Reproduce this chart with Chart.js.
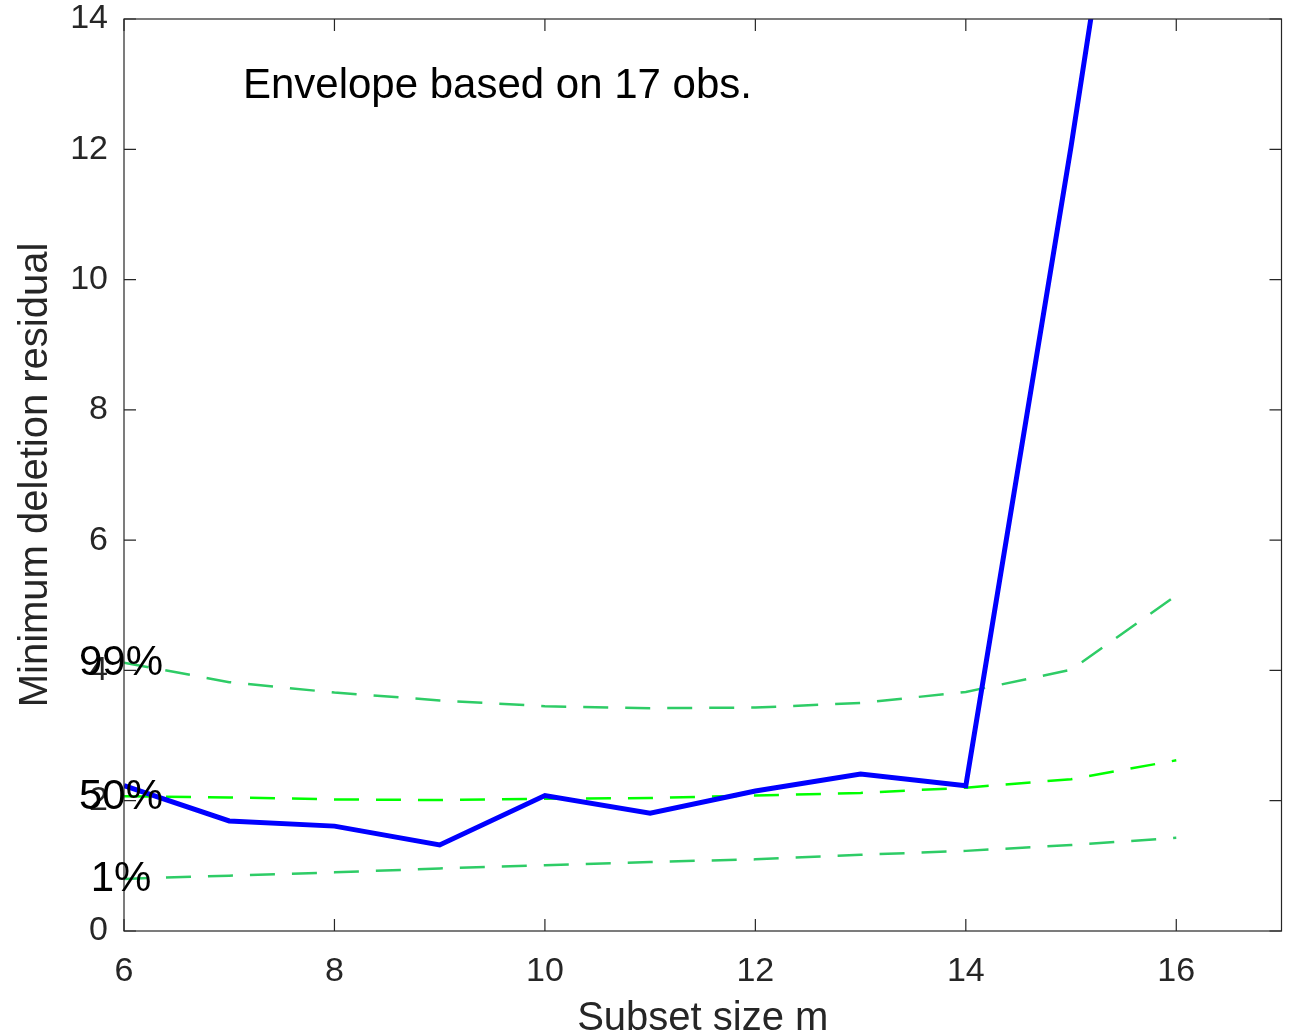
<!DOCTYPE html>
<html>
<head>
<meta charset="utf-8">
<script src="https://cdn.jsdelivr.net/npm/chart.js@4/dist/chart.umd.min.js"></script>
<style>
  html, body { margin: 0; padding: 0; background: #fff; }
  #plot { display: block; }
</style>
</head>
<body>
<canvas id="plot" width="1289" height="1033"></canvas>
<script>
// subset size m and the minimum deletion residual along the forward search
const subsetSize = [6, 7, 8, 9, 10, 11, 12, 13, 14, 15, 16];
const minDeletion = [2.23, 1.69, 1.61, 1.32, 2.08, 1.81, 2.15, 2.41, 2.23, 12.04, 22.5];

// simulation envelopes (1%, 50%, 99%)
const env99 = [4.12, 3.82, 3.66, 3.54, 3.45, 3.42, 3.43, 3.50, 3.67, 4.01, 5.15];
const env50 = [2.07, 2.05, 2.02, 2.01, 2.03, 2.04, 2.08, 2.12, 2.20, 2.33, 2.62];
const env01 = [0.80, 0.85, 0.90, 0.96, 1.01, 1.06, 1.10, 1.17, 1.23, 1.32, 1.43];
const envLabels = ['99%', '50%', '1%'];

const xTicks = [6, 8, 10, 12, 14, 16];
const yTicks = [0, 2, 4, 6, 8, 10, 12, 14];

const toPoints = ys => subsetSize.map((m, i) => ({ x: m, y: ys[i] }));

const FONT = '"Liberation Sans", Arial, Helvetica, sans-serif';
const AXIS_COLOR = '#262626';

// MATLAB-style box with inward ticks, envelope labels and the annotation
const boxPlugin = {
  id: 'matlabBox',
  afterDatasetsDraw(chart) {
    const { ctx, chartArea: a, scales } = chart;
    const xs = scales.x, ys = scales.y;
    const tl = 12;
    ctx.save();
    ctx.strokeStyle = AXIS_COLOR;
    ctx.lineWidth = 1.2;
    ctx.strokeRect(a.left, a.top, a.right - a.left, a.bottom - a.top);
    ctx.beginPath();
    xTicks.forEach(v => {
      const px = xs.getPixelForValue(v);
      ctx.moveTo(px, a.bottom); ctx.lineTo(px, a.bottom - tl);
      ctx.moveTo(px, a.top); ctx.lineTo(px, a.top + tl);
    });
    yTicks.forEach(v => {
      const py = ys.getPixelForValue(v);
      ctx.moveTo(a.left, py); ctx.lineTo(a.left + tl, py);
      ctx.moveTo(a.right, py); ctx.lineTo(a.right - tl, py);
    });
    ctx.stroke();

    // percent labels at the start of each envelope
    ctx.fillStyle = '#000';
    ctx.font = '42px ' + FONT;
    ctx.textAlign = 'center';
    ctx.textBaseline = 'middle';
    [1, 2, 3].forEach((di, k) => {
      const p = chart.getDatasetMeta(di).data[0];
      ctx.fillText(envLabels[k], p.x - 3, p.y + 1);
    });

    ctx.font = '42px ' + FONT;
    ctx.textAlign = 'left';
    ctx.textBaseline = 'alphabetic';
    ctx.fillText('Envelope based on 17 obs.', xs.getPixelForValue(7.13), ys.getPixelForValue(12.78));
    ctx.restore();
  }
};

new Chart(document.getElementById('plot').getContext('2d'), {
  type: 'line',
  data: {
    datasets: [
      {
        label: 'Minimum deletion residual',
        data: toPoints(minDeletion),
        borderColor: '#0000ff',
        borderWidth: 5,
        pointRadius: 0,
        clip: 0
      },
      {
        label: '99%',
        data: toPoints(env99),
        borderColor: '#2ecc66',
        borderWidth: 2.5,
        borderDash: [25, 17],
        pointRadius: 0
      },
      {
        label: '50%',
        data: toPoints(env50),
        borderColor: '#00ff00',
        borderWidth: 2.5,
        borderDash: [25, 17],
        pointRadius: 0
      },
      {
        label: '1%',
        data: toPoints(env01),
        borderColor: '#2ecc66',
        borderWidth: 2.5,
        borderDash: [25, 17],
        pointRadius: 0
      }
    ]
  },
  options: {
    responsive: false,
    animation: false,
    layout: { padding: { top: 19, right: 7.5, left: 0, bottom: 0 } },
    plugins: {
      legend: { display: false },
      tooltip: { enabled: false }
    },
    elements: { line: { tension: 0 } },
    scales: {
      x: {
        type: 'linear',
        min: 6,
        max: 17,
        afterFit(scale) {
          scale.height = 102;
          scale.paddingLeft = 0;
          scale.paddingRight = 0;
        },
        grid: { display: false, drawTicks: false },
        border: { display: false },
        ticks: {
          stepSize: 2,
          includeBounds: false,
          padding: 20,
          color: AXIS_COLOR,
          font: { family: FONT, size: 34 },
          maxRotation: 0
        },
        title: {
          display: true,
          text: 'Subset size m',
          color: AXIS_COLOR,
          font: { family: FONT, size: 40, lineHeight: 0.8 },
          padding: { top: 0, bottom: -2 }
        }
      },
      y: {
        type: 'linear',
        min: 0,
        max: 14,
        afterFit(scale) {
          scale.width = 124;
          scale.paddingTop = 0;
          scale.paddingBottom = 0;
        },
        grid: { display: false, drawTicks: false },
        border: { display: false },
        ticks: {
          stepSize: 2,
          padding: 16,
          color: AXIS_COLOR,
          font: { family: FONT, size: 34 }
        },
        title: {
          display: true,
          text: 'Minimum deletion residual',
          color: AXIS_COLOR,
          font: { family: FONT, size: 40 },
          padding: { top: 12, bottom: 0 }
        }
      }
    }
  },
  plugins: [boxPlugin]
});
</script>
</body>
</html>
